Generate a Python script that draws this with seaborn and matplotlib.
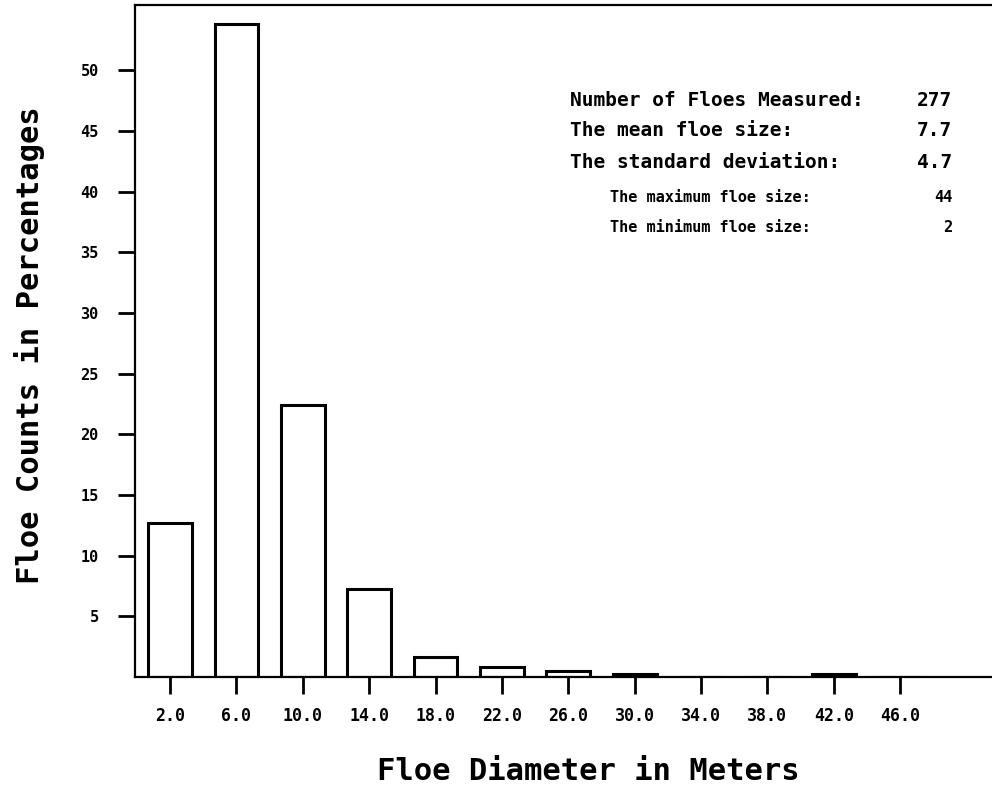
import numpy as np
import pandas as pd
import matplotlib
matplotlib.use("Agg")
import matplotlib.pyplot as plt
import seaborn as sns

# floe diameter bins (m) and percentage of floes in each
diameters = [2, 6, 10, 14, 18, 22, 26, 30, 34, 38, 42, 46]
percent = [12.7, 53.8, 22.4, 7.2, 1.6, 0.8, 0.5, 0.2, 0.0, 0.0, 0.2, 0.0]
tick_labels = [f"{d:.1f}" for d in diameters]
y_ticks = [5, 10, 15, 20, 25, 30, 35, 40, 45, 50]

stats_labels = ["Number of Floes Measured:", "The mean floe size:",
                "The standard deviation:", "The maximum floe size:",
                "The minimum floe size:"]
stats_values = ["277", "7.7", "4.7", "44", "2"]

df = pd.DataFrame({"diameter": diameters, "percent": percent})

sns.set_style("ticks")
plt.rcParams["font.family"] = ["DejaVu Sans Mono", "DejaVu Sans"]
plt.rcParams["font.weight"] = "bold"
for k in ["text.color", "axes.labelcolor", "xtick.color", "ytick.color",
          "axes.edgecolor"]:
    plt.rcParams[k] = "black"

fig = plt.figure(figsize=(9.92, 7.87), dpi=100)
ax = fig.add_axes([0.136, 0.14, 0.87, 0.854])

sns.barplot(data=df, x="diameter", y="percent", native_scale=True,
            width=0.66, color="white", edgecolor="black", linewidth=2.2,
            ax=ax)

ax.set_xlim(-0.12, 51.9)
ax.set_ylim(0, 55.4)
ax.set_xticks(diameters)
ax.set_xticklabels(tick_labels, fontsize=12, fontweight="bold")
ax.set_yticks(y_ticks)
ax.set_yticklabels([str(v) for v in y_ticks], fontsize=11, fontweight="bold")
ax.tick_params(axis="x", length=12, width=2, pad=10)
ax.tick_params(axis="y", length=12, width=2, pad=14)
for s in ax.spines.values():
    s.set_linewidth(1.6)

ax.set_xlabel("Floe Diameter in Meters", fontsize=22, fontweight="bold")
ax.set_ylabel("Floe Counts in Percentages", fontsize=22, fontweight="bold")
ax.xaxis.set_label_coords(0.525, -0.119)
ax.yaxis.set_label_coords(-0.104, 0.494)

# statistics box in the upper right
ys = [101, 131, 163, 197, 227]
xs = [570, 570, 570, 610, 610]
sizes = [14, 14, 14, 11, 11]
for lab, val, x, y, fs in zip(stats_labels, stats_values, xs, ys, sizes):
    fig.text(x / 992, 1 - y / 787, lab, fontsize=fs, fontweight="bold",
             ha="left", va="center")
    fig.text(952 / 992, 1 - y / 787, val, fontsize=fs, fontweight="bold",
             ha="right", va="center")

fig.savefig("out.png", dpi=100)
